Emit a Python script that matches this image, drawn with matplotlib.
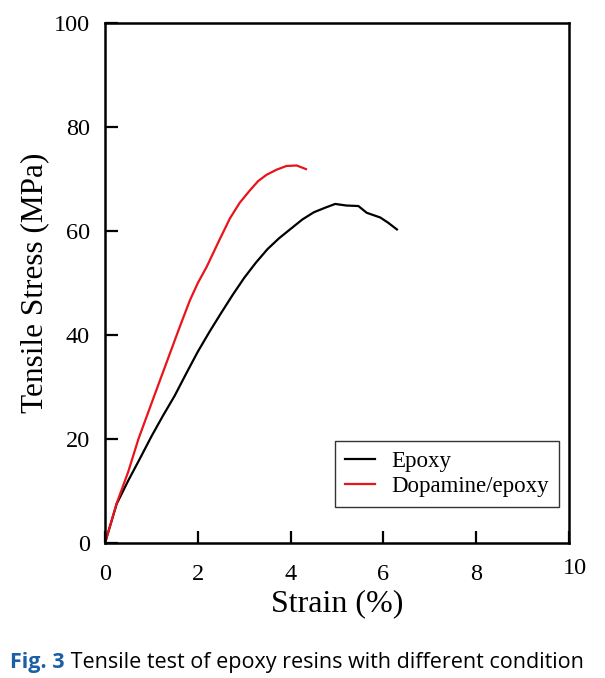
import numpy as np
import matplotlib
matplotlib.use('Agg')
import matplotlib.pyplot as plt
import matplotlib.transforms as mtransforms

# Epoxy
strain_ep = np.array([0, 0.25, 0.5, 0.75, 1.0, 1.25, 1.5, 1.75, 2.0, 2.25, 2.5, 2.75, 3.0,
                      3.25, 3.5, 3.75, 4.0, 4.25, 4.5, 4.75, 4.96, 5.2, 5.46, 5.64, 5.93,
                      6.1, 6.29])
stress_ep = np.array([0, 7.5, 12.0, 16.2, 20.5, 24.5, 28.3, 32.6, 36.8, 40.6, 44.2, 47.7,
                      51.0, 53.9, 56.5, 58.6, 60.4, 62.2, 63.6, 64.5, 65.2, 64.9, 64.8,
                      63.5, 62.6, 61.6, 60.3])
# Dopamine/epoxy
strain_dp = np.array([0, 0.25, 0.5, 0.72, 1.04, 1.4, 1.62, 1.83, 2.0, 2.19, 2.45, 2.69,
                      2.9, 3.13, 3.3, 3.48, 3.7, 3.91, 4.13, 4.33])
stress_dp = np.array([0, 7.6, 13.7, 20.0, 27.8, 36.5, 41.8, 46.7, 50.0, 53.1, 58.0, 62.4,
                      65.4, 67.9, 69.6, 70.8, 71.8, 72.5, 72.6, 71.9])

xticks = [0, 2, 4, 6, 8, 10]
yticks = [0, 20, 40, 60, 80, 100]

plt.rcParams['font.family'] = 'Liberation Serif'

fig = plt.figure(figsize=(6.05, 6.78), dpi=100)
ax = fig.add_axes([0.1736, 0.1991, 0.767, 0.767])

ax.plot(strain_ep, stress_ep, 'k-', lw=1.6, label='Epoxy')
ax.plot(strain_dp, stress_dp, '-', color='#e8141a', lw=1.6, label='Dopamine/epoxy')

ax.set_xlim(0, 10)
ax.set_ylim(0, 100)
ax.set_xticks(xticks)
ax.set_yticks(yticks)
ax.tick_params(direction='in', length=9, width=1.6, labelsize=17.5)
ax.tick_params(axis='x', pad=15)
ax.tick_params(axis='y', pad=11)
for s in ax.spines.values():
    s.set_linewidth(1.8)

# the "10" label sits a bit higher and to the right in the original
lab = ax.get_xticklabels()[-1]
lab.set_transform(lab.get_transform() + mtransforms.ScaledTranslation(4/72, 4/72, fig.dpi_scale_trans))

ax.set_xlabel('Strain (%)', fontsize=23, labelpad=3)
ax.set_ylabel('Tensile Stress (MPa)', fontsize=22.5, labelpad=3)

leg = ax.legend(loc='lower right', bbox_to_anchor=(0.978, 0.069), fontsize=16.5,
                frameon=True, fancybox=False, edgecolor='black', handlelength=1.3,
                handletextpad=0.7, borderpad=0.45, labelspacing=0.15, borderaxespad=0)
leg.get_frame().set_linewidth(1.0)

cap = ' Tensile test of epoxy resins with different condition'
t1 = fig.text(10/605, 1 - 668/678, 'Fig. 3', fontsize=15.5, fontweight='bold',
              color='#1b5fa6', family='Open Sans', va='baseline')
ax.annotate(cap, xy=(1, 0), xycoords=t1, fontsize=15.5, family='Open Sans',
            va='bottom', ha='left', color='black', annotation_clip=False)

fig.savefig('out.png', dpi=100)
